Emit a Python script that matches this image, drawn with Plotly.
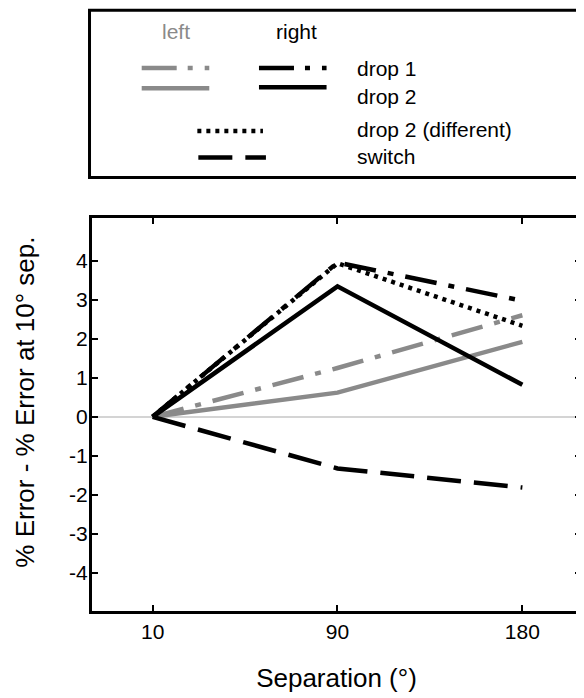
import plotly.graph_objects as go

# ---- data ----
separations = ["10", "90", "180"]
x_idx = [0, 1, 2]
left_drop1 = [0.0, 1.25, 2.6]
left_drop2 = [0.0, 0.62, 1.92]
right_drop1 = [0.0, 3.95, 2.97]
right_drop2 = [0.0, 3.34, 0.82]
drop2_different = [0.0, 3.93, 2.33]
switch = [0.0, -1.32, -1.81]
y_ticks = [-4, -3, -2, -1, 0, 1, 2, 3, 4]
y_ticktext = ["-4", "-3", "-2", "-1", "0", "1", "2", "3", "4"]

GRAY = "#8a8a8a"
BLACK = "#000000"
FONT = "Liberation Sans, Arial, Helvetica, sans-serif"
DASHDOT = "32px,12px,6px,12px"
LEG_DASHDOT = "35px,11px,5px,12px,5px,30px"
DOTTED = "4px,5px"
DASHED = "34px,13px"
LW = 4.5

OFF = 8  # browser body margin
W, H = 576, 690
ML, MR = 92 - OFF, 0
MT = 217.5 - OFF
MB = H - (611 - OFF)
PW = W - ML - MR
PH = H - MT - MB


def px(xs):
    # screen x -> paper
    return (xs - OFF - ML) / PW


def py(ys):
    # screen y -> paper
    return (H - MB - (ys - OFF)) / PH


fig = go.Figure()
series = [
    ("left drop 1", left_drop1, GRAY, DASHDOT),
    ("left drop 2", left_drop2, GRAY, "solid"),
    ("right drop 1", right_drop1, BLACK, DASHDOT),
    ("right drop 2", right_drop2, BLACK, "solid"),
    ("drop 2 (different)", drop2_different, BLACK, DOTTED),
    ("switch", switch, BLACK, DASHED),
]
for name, vals, col, dash in series:
    fig.add_trace(go.Scatter(x=x_idx, y=vals, mode="lines", name=name,
                             line=dict(color=col, width=LW, dash=dash),
                             showlegend=False, hoverinfo="skip"))

shapes = []
annotations = []
# legend box
shapes.append(dict(type="rect", xref="paper", yref="paper",
                   x0=px(89.5), x1=px(600), y0=py(9.5), y1=py(177),
                   line=dict(color="black", width=3), fillcolor="rgba(0,0,0,0)"))

# legend samples
samples = [
    (142, 210, 67.3, GRAY, LEG_DASHDOT),
    (260, 328, 67.3, BLACK, LEG_DASHDOT),
    (142, 210, 87.7, GRAY, "solid"),
    (260, 328, 86.7, BLACK, "solid"),
    (198, 264, 130.5, BLACK, DOTTED),
    (199, 267, 157, BLACK, DASHED),
]
for x0, x1, yy, col, dash in samples:
    shapes.append(dict(type="line", xref="paper", yref="paper",
                       x0=px(x0), x1=px(x1), y0=py(yy), y1=py(yy),
                       line=dict(color=col, width=4.5, dash=dash)))

legend_texts = [
    ("left", 176.5, 31, GRAY, "center"),
    ("right", 297.5, 31, BLACK, "center"),
    ("drop 1", 357, 68, BLACK, "left"),
    ("drop 2", 357, 96, BLACK, "left"),
    ("drop 2 (different)", 357, 129, BLACK, "left"),
    ("switch", 357, 156, BLACK, "left"),
]
for txt, xx, yy, col, anchor in legend_texts:
    annotations.append(dict(text=txt, xref="paper", yref="paper",
                            x=px(xx), y=py(yy), xanchor=anchor, yanchor="middle",
                            showarrow=False, font=dict(family=FONT, size=21, color=col)))

# y-axis title
annotations.append(dict(text="% Error - % Error at 10° sep.", xref="paper", yref="paper",
                        x=px(25), y=py(402), xanchor="center", yanchor="middle",
                        textangle=-90, showarrow=False,
                        font=dict(family=FONT, size=26, color=BLACK)))

fig.update_layout(
    width=W, height=H,
    margin=dict(l=ML, r=MR, t=MT, b=MB, pad=0),
    paper_bgcolor="white", plot_bgcolor="white",
    font=dict(family=FONT, size=21, color="black"),
    shapes=shapes, annotations=annotations,
    showlegend=False,
)
fig.update_xaxes(
    range=[(ML + OFF - 153) / 186, (W - MR + OFF - 153) / 186],
    tickmode="array", tickvals=x_idx, ticktext=separations,
    ticks="inside", ticklen=6, tickwidth=2, tickcolor="black",
    showline=True, linewidth=3, linecolor="black", mirror="ticks",
    showgrid=False, zeroline=False,
    tickfont=dict(family=FONT, size=21),
    title=dict(text="Separation (°)", font=dict(family=FONT, size=26), standoff=27),
)
fig.update_yaxes(
    range=[-4.97, 5.09],
    tickmode="array", tickvals=y_ticks, ticktext=y_ticktext,
    ticks="inside", ticklen=6, tickwidth=2, tickcolor="black",
    showline=True, linewidth=3, linecolor="black", mirror="ticks",
    showgrid=False, zeroline=True, zerolinecolor="#d4d4d4", zerolinewidth=2,
    tickfont=dict(family=FONT, size=21),
    ticklabelstandoff=-3,
)
fig.write_html("out.html")
